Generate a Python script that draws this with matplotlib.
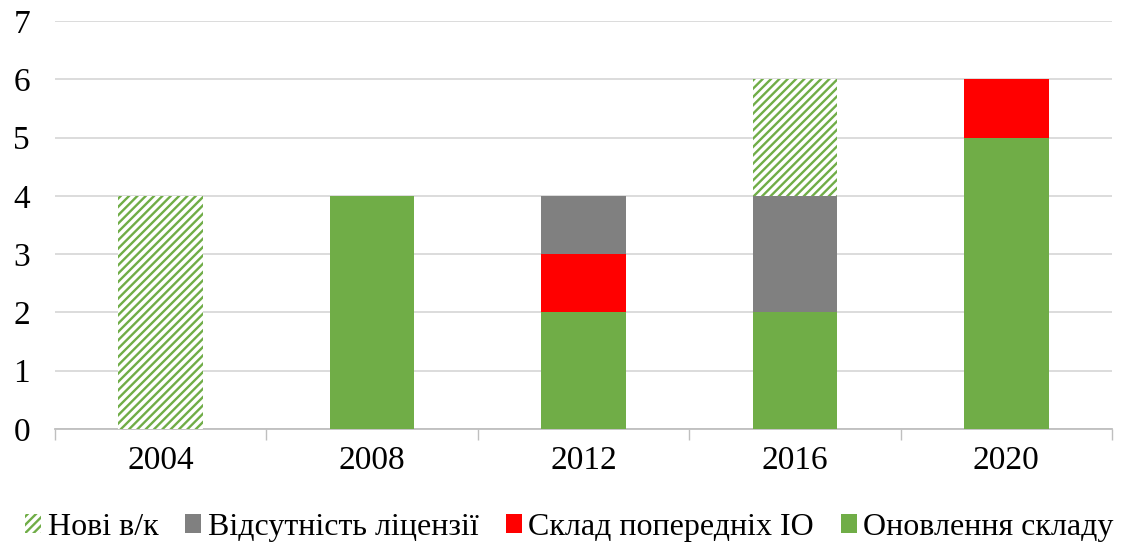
import numpy as np
import matplotlib
matplotlib.use("Agg")
from matplotlib import pyplot as plt
from matplotlib.ticker import FixedLocator

years = ["2004", "2008", "2012", "2016", "2020"]
onovlennia = [0, 4, 2, 2, 5]      # Оновлення складу
sklad = [0, 0, 1, 0, 1]           # Склад попередніх ІО
vidsutnist = [0, 0, 1, 2, 0]      # Відсутність ліцензії
novi = [4, 0, 0, 2, 0]            # Нові в/к

plt.rcParams['font.family'] = ['Liberation Serif', 'DejaVu Serif']
plt.rcParams['hatch.linewidth'] = 1.7

fig = plt.figure(figsize=(11.21, 5.45), dpi=100)
ax = fig.add_axes([0.049, 0.213, 0.943, 0.748])

x = np.arange(len(years))
w = 0.4
green = "#70AD47"
b1 = ax.bar(x, onovlennia, w, color=green, zorder=3)
bot = np.array(onovlennia)
b2 = ax.bar(x, sklad, w, bottom=bot, color="#FF0000", zorder=3)
bot = bot + np.array(sklad)
b3 = ax.bar(x, vidsutnist, w, bottom=bot, color="#808080", zorder=3)
bot = bot + np.array(vidsutnist)
b4 = ax.bar(x, novi, w, bottom=bot, facecolor="white", edgecolor=green,
            hatch="////", linewidth=0, zorder=3)

ax.set_xlim(-0.5, len(years) - 0.5)
ax.set_ylim(0, 7)
ax.set_yticks(range(8))
ax.set_xticks(x)
ax.set_xticklabels(years)
ax.xaxis.set_minor_locator(FixedLocator(np.arange(-0.5, len(years), 1)))
ax.tick_params(axis='x', which='major', length=0, labelsize=24, pad=12)
ax.tick_params(axis='x', which='minor', length=8, color="#BFBFBF", width=1)
ax.tick_params(axis='y', length=0, labelsize=24, pad=30)
for lab in ax.get_yticklabels():
    lab.set_horizontalalignment('left')
ax.grid(axis='y', color="#D9D9D9", linewidth=1.3, zorder=0)
for s in ['top', 'right', 'left']:
    ax.spines[s].set_visible(False)
ax.spines['bottom'].set_color("#BFBFBF")
ax.spines['bottom'].set_linewidth(1.3)

fig.legend([b4, b3, b2, b1],
           ["Нові в/к", "Відсутність ліцензії", "Склад попередніх ІО", "Оновлення складу"],
           loc='center', bbox_to_anchor=(0.508, 0.033), ncol=4, frameon=False,
           fontsize=23, handlelength=0.5, handleheight=0.55, handletextpad=0.2,
           columnspacing=0.85, borderaxespad=0, borderpad=0)

fig.savefig("out.png", dpi=100)
